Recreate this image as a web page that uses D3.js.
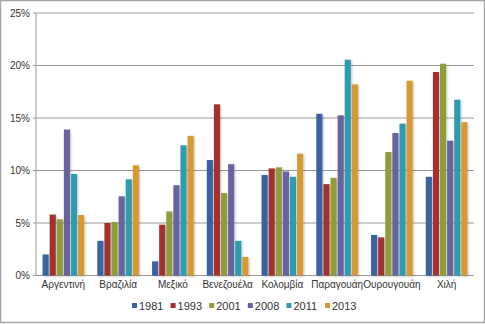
<!DOCTYPE html>
<html><head><meta charset="utf-8">
<script src="https://cdn.jsdelivr.net/npm/d3@7"></script>
<style>body{margin:0;background:#fff}svg{display:block}</style>
</head><body><svg id="c" width="485" height="324"></svg>
<script>
const categories = ["Αργεντινή","Βραζιλία","Μεξικό","Βενεζουέλα","Κολομβία","Παραγουάη","Ουρουγουάη","Χιλή"];
const years = ["1981","1993","2001","2008","2011","2013"];
const colors = ["#3a62a0","#a3302f","#8f9c3a","#67629e","#2f9bae","#d69a30"];
const s1981 = [2.0, 3.3, 1.35, 11.0, 9.57, 15.4, 3.86, 9.4];
const s1993 = [5.8, 5.0, 4.84, 16.3, 10.2, 8.7, 3.63, 19.38];
const s2001 = [5.35, 5.1, 6.1, 7.86, 10.3, 9.3, 11.76, 20.17];
const s2008 = [13.9, 7.54, 8.6, 10.6, 9.9, 15.25, 13.57, 12.84];
const s2011 = [9.67, 9.16, 12.4, 3.3, 9.4, 20.55, 14.46, 16.74];
const s2013 = [5.76, 10.5, 13.3, 1.76, 11.6, 18.2, 18.55, 14.6];
const yTicks = [0,5,10,15,20,25];
const series = [s1981,s1993,s2001,s2008,s2011,s2013];

(function(){
const svg = d3.select("#c");
svg.append("rect").attr("x",0.5).attr("y",0.5).attr("width",484).attr("height",322)
  .attr("fill","#fff").attr("stroke","#a6a6a6").attr("stroke-width",1.5);

const pl=36, pr=474, pt=13, pb=275.5;
const x0 = d3.scaleBand().domain(categories).range([pl,pr]).paddingInner(0.24).paddingOuter(0.12);
const x1 = d3.scaleBand().domain(years).range([0,x0.bandwidth()]).paddingInner(0.14);
const y = d3.scaleLinear().domain([0,25]).range([pb,pt]);

svg.append("g").selectAll("line").data(yTicks).join("line")
  .attr("x1",pl-3).attr("x2",pr).attr("y1",d=>y(d)).attr("y2",d=>y(d))
  .attr("stroke","#9a9a9a").attr("stroke-width",1);
svg.append("line").attr("x1",pl).attr("x2",pl).attr("y1",pt).attr("y2",pb).attr("stroke","#999");

svg.append("g").selectAll("text").data(yTicks).join("text")
  .attr("x",30).attr("y",d=>y(d)).attr("dy","0.35em").attr("text-anchor","end")
  .attr("font-family","Liberation Sans, Arial, sans-serif").attr("font-size",10).attr("fill","#333")
  .text(d=>d+"%");

const defs = svg.append("defs");
const f = defs.append("filter").attr("id","sh").attr("x","-30%").attr("y","-10%").attr("width","170%").attr("height","120%");
f.append("feDropShadow").attr("dx",1).attr("dy",1).attr("stdDeviation",0.8).attr("flood-color","#000").attr("flood-opacity",0.25);

const g = svg.append("g");
series.forEach((s,si)=>{
  g.append("g").selectAll("rect").data(s).join("rect")
    .attr("x",(d,i)=>x0(categories[i])+x1(years[si]))
    .attr("width",x1.bandwidth())
    .attr("y",d=>y(d)).attr("height",d=>pb-y(d))
    .attr("fill",colors[si]).attr("filter","url(#sh)");
});

svg.append("g").selectAll("text").data(categories).join("text")
  .attr("x",d=>x0(d)+x0.bandwidth()/2).attr("y",pb+12).attr("text-anchor","middle")
  .attr("font-family","Liberation Sans, Arial, sans-serif").attr("font-size",10).attr("fill","#333")
  .text(d=>d);

const lg = svg.append("g");
years.forEach((yr,i)=>{
  const lx = 132 + i*38.6;
  lg.append("rect").attr("x",lx).attr("y",303).attr("width",5).attr("height",5).attr("fill",colors[i]);
  lg.append("text").attr("x",lx+7).attr("y",306).attr("dy","0.35em")
    .attr("font-family","Liberation Sans, Arial, sans-serif").attr("font-size",11).attr("fill","#333").text(yr);
});
})();
</script></body></html>
